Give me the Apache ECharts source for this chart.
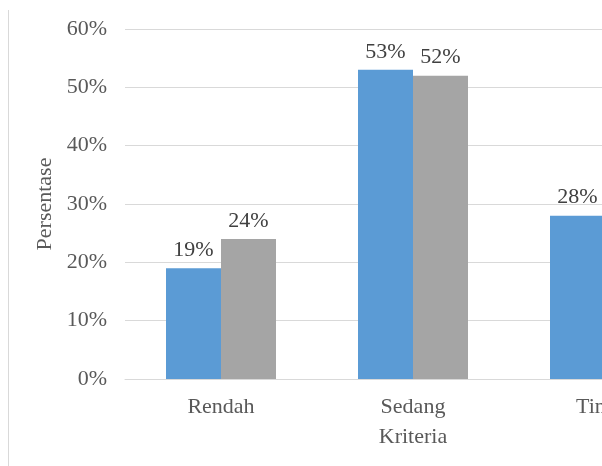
<!DOCTYPE html>
<html><head><meta charset="utf-8">
<script src="https://cdn.jsdelivr.net/npm/echarts@6/dist/echarts.min.js"></script>
<style>
html,body{margin:0;padding:0;background:#fff;overflow:hidden;width:602px;height:466px;}
#frame{position:absolute;left:8px;top:10px;width:1px;height:456px;background:#d9d9d9;}
#c{position:absolute;left:0;top:0;width:730px;height:466px;}
</style></head>
<body><div id="c"></div><div id="frame"></div>
<script>
const categories = ['Rendah', 'Sedang', 'Tinggi'];
const series1 = [19, 53, 28];
const series2 = [24, 52, 24];
const yTicks = [0, 10, 20, 30, 40, 50, 60];

const chart = echarts.init(document.getElementById('c'));
const font = '"Liberation Serif", "Times New Roman", serif';
const lbl = {show: true, position: 'top', distance: 7, formatter: p => p.value + '%', fontFamily: font, fontSize: 22, color: '#404040'};
chart.setOption({
  animation: false,
  grid: {left: 125, top: 29, width: 576, height: 350, containLabel: false},
  xAxis: {
    type: 'category', data: categories,
    name: 'Kriteria', nameLocation: 'middle', nameGap: 47,
    nameTextStyle: {fontFamily: font, fontSize: 22, color: '#595959'},
    axisLine: {lineStyle: {color: '#d9d9d9', width: 1}},
    axisTick: {show: false},
    axisLabel: {fontFamily: font, fontSize: 22, color: '#595959', margin: 17}
  },
  yAxis: {
    type: 'value', min: yTicks[0], max: yTicks[yTicks.length - 1], interval: 10,
    name: 'Persentase', nameLocation: 'middle', nameGap: 66, nameRotate: 90,
    nameTextStyle: {fontFamily: font, fontSize: 22, color: '#595959'},
    axisLine: {show: false}, axisTick: {show: false},
    splitLine: {lineStyle: {color: '#d9d9d9', width: 1}},
    axisLabel: {fontFamily: font, fontSize: 22, color: '#595959', margin: 18, formatter: v => v + '%'}
  },
  series: [
    {type: 'bar', data: series1, barWidth: 55, barGap: '0%', itemStyle: {color: '#5b9bd5'}, label: lbl},
    {type: 'bar', data: series2, barWidth: 55, barGap: '0%', itemStyle: {color: '#a5a5a5'}, label: lbl}
  ]
});
</script></body></html>
